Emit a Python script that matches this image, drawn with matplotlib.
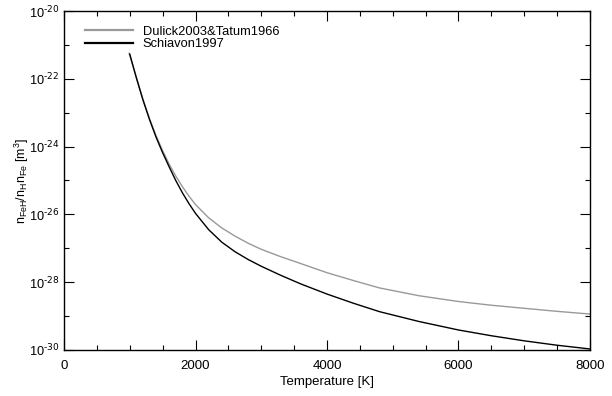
import numpy as np
import matplotlib
matplotlib.use('Agg')
import matplotlib.pyplot as plt
from matplotlib.ticker import LogLocator, MultipleLocator, FixedLocator, NullFormatter

plt.rcParams['font.family'] = ['Liberation Sans', 'DejaVu Sans']
plt.rcParams['mathtext.default'] = 'regular'

# log10 of n_FeH / (n_H n_Fe)
temp_dulick = [990, 1100, 1200, 1300, 1400, 1500, 1600, 1700, 1800, 1900, 2000, 2200, 2400,
               2600, 2800, 3000, 3300, 3600, 4000, 4400, 4800, 5400, 6000, 6500, 7000, 7500, 8000]
log_dulick = [-21.25, -21.95, -22.60, -23.17, -23.68, -24.12, -24.52, -24.87, -25.18, -25.46,
              -25.71, -26.10, -26.40, -26.64, -26.85, -27.03, -27.25, -27.45, -27.72, -27.95,
              -28.17, -28.40, -28.57, -28.68, -28.77, -28.86, -28.94]

temp_schiavon = [1000, 1100, 1200, 1300, 1400, 1500, 1600, 1700, 1800, 1900, 2000, 2200, 2400,
                 2600, 2800, 3000, 3300, 3600, 4000, 4400, 4800, 5400, 6000, 6500, 7000, 7500, 8000]
log_schiavon = [-21.27, -21.97, -22.62, -23.20, -23.72, -24.18, -24.60, -25.00, -25.36, -25.68,
                -25.97, -26.45, -26.82, -27.10, -27.33, -27.53, -27.80, -28.05, -28.35, -28.62,
                -28.87, -29.16, -29.41, -29.58, -29.73, -29.86, -29.97]

ytick_exp = [-30, -28, -26, -24, -22, -20]
xtick_vals = [0, 2000, 4000, 6000, 8000]

fig = plt.figure(figsize=(6.12, 3.96), dpi=100)
ax = fig.add_axes([0.1046, 0.1162, 0.8594, 0.8560])

ax.plot(temp_dulick, 10 ** np.array(log_dulick), color='#999999', lw=1.0,
        label='Dulick2003&Tatum1966')
ax.plot(temp_schiavon, 10 ** np.array(log_schiavon), color='black', lw=1.0,
        label='Schiavon1997')

ax.set_yscale('log')
ax.set_xlim(0, 8000)
ax.set_ylim(1e-30, 1e-20)

ax.xaxis.set_major_locator(FixedLocator(xtick_vals))
ax.xaxis.set_minor_locator(MultipleLocator(500))
ax.set_yticks([10.0 ** e for e in ytick_exp])
ax.set_yticklabels([r'$10^{\text{%d}}$' % e for e in ytick_exp])
ax.yaxis.set_minor_locator(LogLocator(base=10, subs=[1.0], numticks=20))
ax.yaxis.set_minor_formatter(NullFormatter())

ax.tick_params(which='both', direction='in', top=True, right=True, labelsize=9.5, width=0.8)
ax.tick_params(which='major', length=7.5)
ax.tick_params(which='minor', length=3.8)
ax.tick_params(axis='x', which='major', pad=7.5)
ax.tick_params(axis='y', which='major', pad=3.5, labelsize=9.2)
for s in ax.spines.values():
    s.set_linewidth(1.0)

ax.set_xlabel('Temperature [K]', fontsize=9.5, labelpad=2.5)
ax.set_ylabel(r'$n_{FeH}/n_H n_{Fe}$ [m$^3$]', fontsize=9)
ax.yaxis.set_label_coords(-0.062, 0.5)

leg = ax.legend(loc='upper left', bbox_to_anchor=(0.030, 0.972), borderaxespad=0,
                frameon=False, fontsize=9.3, handlelength=3.7,
                handletextpad=0.78, labelspacing=0.04)
for h in leg.get_lines():
    h.set_linewidth(1.6)

fig.savefig('out.png', dpi=100)
